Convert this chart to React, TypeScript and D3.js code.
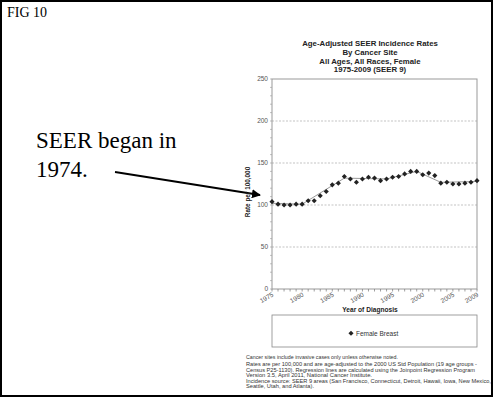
import * as d3 from "d3";

const years = d3.range(1975, 2010);
const rates = [
  104, 101, 100, 100, 101, 101, 105, 105, 111, 116,
  124, 126, 134, 131, 127, 131, 133, 132, 129, 131,
  133, 134, 137, 140, 140, 136, 138, 135, 126, 127,
  125, 125, 126, 127, 129,
];

// joinpoint regression line (fitted segments)
const joinYears = [1975, 1980, 1987, 1994, 1999, 2003, 2009];
const joinRates = [102, 101, 132, 131, 140, 127, 128];

const yTicks = [0, 50, 100, 150, 200, 250];
const gridTicks = [50, 100, 150, 200];
const xTickLabels = ["1975", "1980", "1985", "1990", "1995", "2000", "2005", "2009"];

const titleLines = [
  "Age-Adjusted SEER Incidence Rates",
  "By Cancer Site",
  "All Ages, All Races, Female",
  "1975-2009  (SEER 9)",
];

const footnoteLines = [
  "Cancer sites include invasive cases only unless otherwise noted.",
  "Rates are per 100,000 and are age-adjusted to the 2000 US Std Population (19 age groups -",
  "Census P25-1130). Regression lines are calculated using the Joinpoint Regression Program",
  "Version 3.5, April 2011, National Cancer Institute.",
  "Incidence source: SEER 9 areas (San Francisco, Connecticut, Detroit, Hawaii, Iowa, New Mexico,",
  "Seattle, Utah, and Atlanta).",
];
const footnoteWidths = [152, 231, 229, 126, 245, 68];
const footnoteY = [359, 366, 371.5, 377, 382.5, 388];

const W = 494;
const H = 398;
const plot = { left: 272, right: 477, top: 79, bottom: 289 };
const sans = "'Liberation Sans', Arial, sans-serif";
const serif = "'Liberation Serif', 'Times New Roman', serif";

export default function App() {
  const x = d3.scaleLinear().domain([1975, 2009]).range([plot.left, plot.right]);
  const y = d3.scaleLinear().domain([0, 250]).range([plot.bottom, plot.top]);

  const joinLine = d3
    .line<number>()
    .x((d, i) => x(joinYears[i]))
    .y((d) => y(d))(joinRates);

  const marker = d3.symbol().type(d3.symbolSquare).size(13)();

  const arrowFrom = [115, 172];
  const arrowTo = [260, 195];

  return (
    <svg
      width={W}
      height={H}
      style={{ position: "absolute", left: 0, top: 0, background: "#fff" }}
    >
      <defs>
        <marker id="ah" viewBox="0 0 10 10" refX="9" refY="5" markerWidth="5" markerHeight="5" orient="auto">
          <path d="M0,0 L10,5 L0,10 z" fill="#000" />
        </marker>
      </defs>
      <rect x={1} y={1} width={W - 3} height={H - 3} fill="#fff" stroke="#000" strokeWidth={2} />

      <text x={7} y={16.5} fontFamily={serif} fontSize={14}>FIG 10</text>

      <text x={36} y={148} fontFamily={serif} fontSize={23}>SEER began in</text>
      <text x={36} y={177} fontFamily={serif} fontSize={23}>1974.</text>
      <line
        x1={arrowFrom[0]}
        y1={arrowFrom[1]}
        x2={arrowTo[0]}
        y2={arrowTo[1]}
        stroke="#000"
        strokeWidth={1.8}
        markerEnd="url(#ah)"
      />

      {titleLines.map((t, i) => (
        <text
          key={t}
          x={370}
          y={46 + i * 8.8}
          textAnchor="middle"
          fontFamily={sans}
          fontWeight="bold"
          fontSize={7.8}
          fill="#222"
        >
          {t}
        </text>
      ))}

      {/* grid */}
      {gridTicks.map((t) => (
        <line
          key={t}
          x1={plot.left}
          x2={plot.right}
          y1={y(t)}
          y2={y(t)}
          stroke="#aaa"
          strokeWidth={0.7}
          strokeDasharray="2,1.5"
        />
      ))}
      <rect
        x={plot.left}
        y={plot.top}
        width={plot.right - plot.left}
        height={plot.bottom - plot.top}
        fill="none"
        stroke="#999"
        strokeWidth={1}
      />

      {/* y axis */}
      {d3.range(0, 251, 10).map((t) => (
        <line key={t} x1={plot.left - 2} x2={plot.left} y1={y(t)} y2={y(t)} stroke="#999" strokeWidth={0.6} />
      ))}
      {yTicks.map((t) => (
        <text
          key={t}
          x={plot.left - 4}
          y={y(t) + 2.3}
          textAnchor="end"
          fontFamily={sans}
          fontSize={6.5}
          fill="#555"
        >
          {t}
        </text>
      ))}
      <text
        transform={`translate(250,192) rotate(-90)`}
        textAnchor="middle"
        fontFamily={sans}
        fontWeight="bold"
        fontSize={6.4}
        fill="#222"
      >
        Rate per 100,000
      </text>

      {/* x axis */}
      {years.map((yr) => (
        <line key={yr} x1={x(yr)} x2={x(yr)} y1={plot.bottom} y2={plot.bottom + 2.5} stroke="#777" strokeWidth={0.7} />
      ))}
      {xTickLabels.map((t) => (
        <text
          key={t}
          transform={`translate(${x(+t) + 2},${plot.bottom + 7}) rotate(-30)`}
          textAnchor="end"
          fontFamily={sans}
          fontSize={6.5}
          fill="#555"
        >
          {t}
        </text>
      ))}
      <text x={370} y={311.5} textAnchor="middle" fontFamily={sans} fontWeight="bold" fontSize={6.6} fill="#222">
        Year of Diagnosis
      </text>

      {/* series */}
      <path d={joinLine ?? ""} fill="none" stroke="#999" strokeWidth={1} />
      {rates.map((r, i) => (
        <path
          key={years[i]}
          d={marker}
          transform={`translate(${x(years[i])},${y(r)}) rotate(45)`}
          fill="#222"
        />
      ))}

      {/* legend */}
      <rect x={272} y={315} width={205} height={32} fill="#fff" stroke="#888" strokeWidth={0.8} />
      <path d={marker} transform="translate(351,333.3) rotate(45)" fill="#222" />
      <text x={356} y={335.5} fontFamily={sans} fontSize={6.5} fill="#333">Female Breast</text>

      {/* footnote */}
      {footnoteLines.map((t, i) => (
        <text
          key={i}
          x={246}
          y={footnoteY[i]}
          fontFamily={sans}
          fontSize={5.4}
          fill="#333"
          textLength={footnoteWidths[i]}
          lengthAdjust="spacingAndGlyphs"
        >
          {t}
        </text>
      ))}
    </svg>
  );
}
